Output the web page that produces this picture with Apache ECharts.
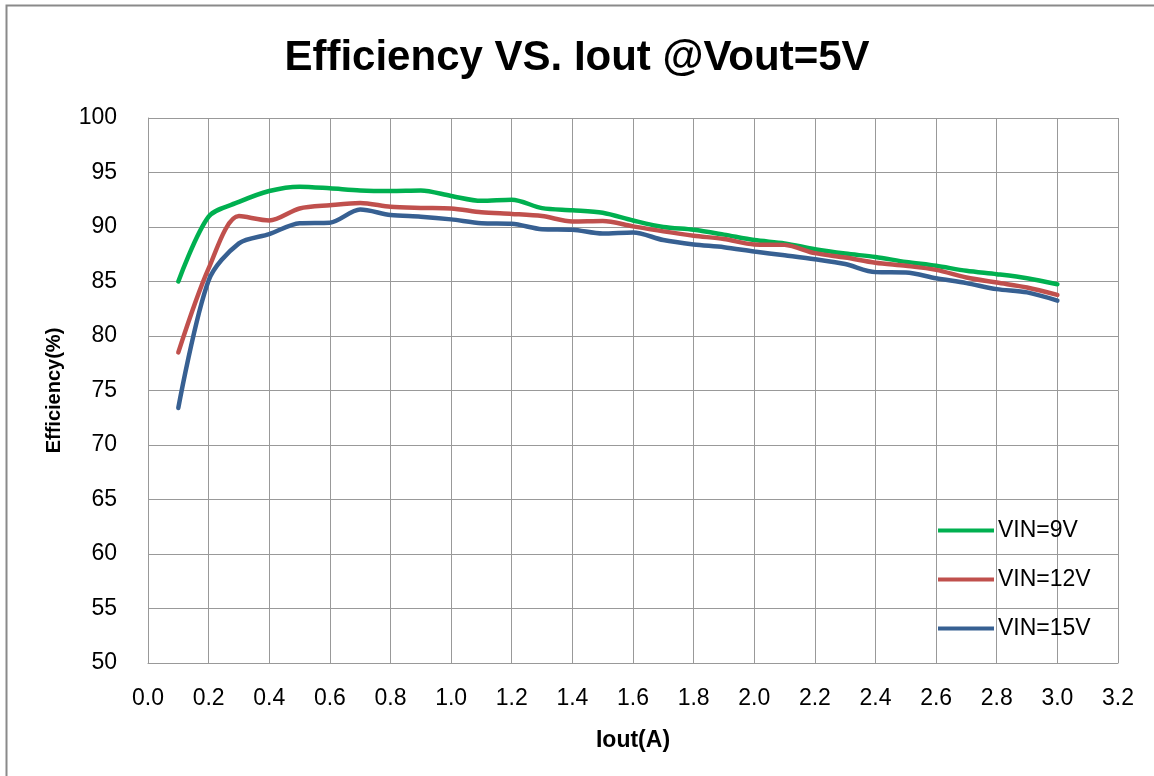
<!DOCTYPE html>
<html>
<head>
<meta charset="utf-8">
<script src="https://cdn.jsdelivr.net/npm/echarts@6/dist/echarts.min.js"></script>
<style>
html,body{margin:0;padding:0;background:#fff;}
#chart{width:1154px;height:776px;}
</style>
</head>
<body>
<div id="chart"></div>
<script>
const iout = [0.1,0.2,0.3,0.4,0.5,0.6,0.7,0.8,0.9,1.0,1.1,1.2,1.3,1.4,1.5,1.6,1.7,1.8,1.9,2.0,2.1,2.2,2.3,2.4,2.5,2.6,2.7,2.8,2.9,3.0];
const vin9 = [85.0,90.95,92.3,93.3,93.7,93.55,93.35,93.3,93.35,92.85,92.4,92.5,91.73,91.54,91.3,90.6,90.0,89.75,89.3,88.8,88.5,87.96,87.56,87.25,86.8,86.44,85.98,85.67,85.3,84.75];
const vin12 = [78.5,86.2,91.0,90.6,91.7,92.0,92.2,91.85,91.75,91.7,91.35,91.2,91.0,90.5,90.55,90.06,89.6,89.2,88.9,88.4,88.36,87.6,87.2,86.72,86.44,86.07,85.37,84.9,84.45,83.77];
const vin15 = [73.4,85.1,88.5,89.35,90.35,90.4,91.6,91.1,90.95,90.7,90.35,90.3,89.8,89.75,89.4,89.5,88.8,88.4,88.15,87.75,87.4,87.04,86.6,85.86,85.83,85.3,84.85,84.3,84.0,83.25];
const seriesNames = ['VIN=9V','VIN=12V','VIN=15V'];
const seriesColors = ['#00B050','#C0504D','#376092'];
const titleText = 'Efficiency VS. Iout @Vout=5V';
const xName = 'Iout(A)';
const yName = 'Efficiency(%)';

const FONT = '"Liberation Sans", Arial, sans-serif';
const chart = echarts.init(document.getElementById('chart'));
const dataSets = [vin9, vin12, vin15];
chart.setOption({
  animation: false,
  backgroundColor: '#fff',
  graphic: [{
    type: 'rect', left: 4, top: 3, silent: true,
    shape: {width: 1200, height: 800},
    style: {fill: 'none', stroke: '#8a8a8a', lineWidth: 2}
  }],
  title: {
    text: titleText, left: 'center', top: 32,
    textStyle: {fontFamily: FONT, fontSize: 42, fontWeight: 'bold', color: '#000'}
  },
  legend: {
    orient: 'vertical', left: 933, top: 514,
    itemWidth: 56, itemHeight: 4, itemGap: 26,
    icon: 'rect',
    textStyle: {fontFamily: FONT, fontSize: 23, color: '#000', padding: [0,0,0,-1]},
    data: seriesNames
  },
  grid: {left: 148, right: 36, top: 118, bottom: 113},
  xAxis: {
    type: 'value', min: 0, max: 3.2, interval: 0.2,
    name: xName, nameLocation: 'middle', nameGap: 66,
    nameTextStyle: {fontFamily: FONT, fontSize: 23, fontWeight: 'bold', color: '#000'},
    axisLine: {lineStyle: {color: '#999', width: 1}},
    axisTick: {show: false},
    axisLabel: {fontFamily: FONT, fontSize: 23, color: '#000', margin: 24,
      formatter: v => v.toFixed(1)},
    splitLine: {show: true, lineStyle: {color: '#999', width: 1}}
  },
  yAxis: {
    type: 'value', min: 50, max: 100, interval: 5,
    name: yName, nameLocation: 'middle', nameGap: 84, nameRotate: 90,
    nameTextStyle: {fontFamily: FONT, fontSize: 20, fontWeight: 'bold', color: '#000', padding: [0,0,0,0]},
    axisLine: {show: true, lineStyle: {color: '#999', width: 1}},
    axisTick: {show: false},
    axisLabel: {fontFamily: FONT, fontSize: 23, color: '#000', margin: 31},
    splitLine: {show: true, lineStyle: {color: '#999', width: 1}}
  },
  series: seriesNames.map((n, i) => ({
    name: n, type: 'line', smooth: 0.3, symbol: 'none',
    data: iout.map((x, j) => [x, dataSets[i][j]]),
    lineStyle: {color: seriesColors[i], width: 4.5, cap: 'round'},
    itemStyle: {color: seriesColors[i]}
  }))
});
</script>
</body>
</html>
